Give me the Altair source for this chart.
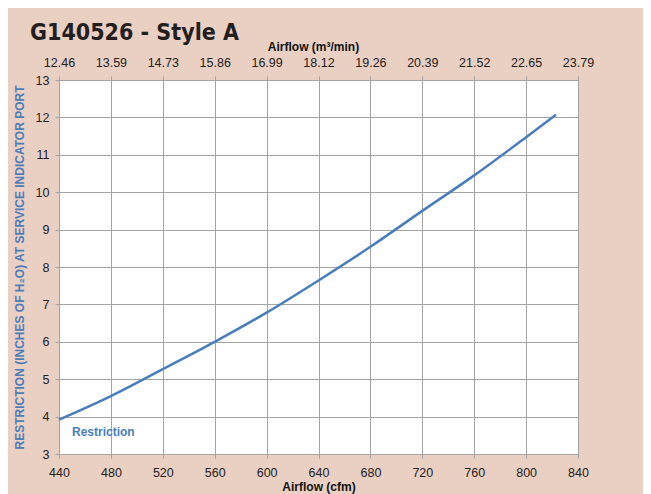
import json
import altair as alt
import pandas as pd

# ---- data ----
cfm = [440, 480, 520, 560, 600, 640, 680, 720, 760, 800, 823]
restriction = [3.92, 4.55, 5.27, 6.0, 6.78, 7.64, 8.54, 9.5, 10.45, 11.47, 12.07]
series_name = "Restriction"

cfm_ticks = [440, 480, 520, 560, 600, 640, 680, 720, 760, 800, 840]
m3_labels = ["12.46", "13.59", "14.73", "15.86", "16.99", "18.12",
             "19.26", "20.39", "21.52", "22.65", "23.79"]
y_ticks = [3, 4, 5, 6, 7, 8, 9, 10, 11, 12, 13]

title_text = "G140526 - Style A"
x_title = "Airflow (cfm)"
x2_title = "Airflow (m³/min)"
y_title = "RESTRICTION (INCHES OF H₂O) AT SERVICE INDICATOR PORT"

df = pd.DataFrame({"cfm": cfm, "restriction": restriction,
                   "series": [series_name] * len(cfm)})

BLUE = "#4a7ebb"
GRID = "#a3a3a3"
BG = "#eacfc3"
FONT = "Liberation Sans"

W, H = 519, 374

x_scale = alt.Scale(domain=[cfm_ticks[0], cfm_ticks[-1]], nice=False, zero=False)
y_scale = alt.Scale(domain=[y_ticks[0], y_ticks[-1]], nice=False, zero=False)

label_expr = f"{json.dumps(m3_labels)}[indexof({json.dumps(cfm_ticks)}, datum.value)]"

y_enc = alt.Y("restriction:Q", scale=y_scale,
              axis=alt.Axis(values=y_ticks, title=y_title, grid=True,
                            labelPadding=6, titleColor=BLUE,
                            titleX=-40, titleY=H / 2, titleAngle=-90,
                            titleAlign="center", titleBaseline="middle"))

line = alt.Chart(df).mark_line(strokeWidth=2.5, interpolate="monotone").encode(
    x=alt.X("cfm:Q", scale=x_scale,
            axis=alt.Axis(orient="bottom", values=cfm_ticks, title=x_title,
                          grid=True, labelPadding=8,
                          titleX=W / 2, titleY=36, titleAlign="center",
                          titleBaseline="alphabetic")),
    y=y_enc,
    color=alt.Color("series:N",
                    scale=alt.Scale(domain=[series_name], range=[BLUE]),
                    legend=alt.Legend(orient="none", legendX=1, legendY=346,
                                      title=None, symbolOpacity=0, symbolSize=1,
                                      labelOffset=0, padding=0,
                                      labelColor=BLUE, labelFontWeight="bold",
                                      labelFontSize=12, labelFont=FONT)),
)

top = alt.Chart(df).mark_line(opacity=0).encode(
    x=alt.X("cfm:Q", scale=x_scale,
            axis=alt.Axis(orient="top", values=cfm_ticks, labelExpr=label_expr,
                          title=x2_title, grid=False, labelPadding=7,
                          titleX=254, titleY=-30, titleAlign="center",
                          titleBaseline="alphabetic")),
    y=y_enc,
)

chart = (
    alt.layer(line, top)
    .resolve_axis(x="independent")
    .properties(
        width=W, height=H,
        autosize=alt.AutoSizeParams(type="none"),
        padding={"left": 51, "top": 72, "right": 65, "bottom": 40},
        background=BG,
        title=alt.TitleParams(title_text, anchor="start", frame="group",
                              dx=-29, dy=9,
                              font="Liberation Sans Narrow, DejaVu Sans Condensed, Liberation Sans",
                              fontSize=23, fontWeight="bold", color="#231f20"),
    )
    .configure_view(stroke=GRID, strokeWidth=1, fill="white")
    .configure_axis(
        domainColor=GRID, tickColor=GRID, gridColor=GRID, tickSize=4,
        labelFont=FONT, labelFontSize=12.5, labelColor="#222222",
        labelFlush=False, labelOverlap=False,
        titleFont=FONT, titleFontSize=12, titleFontWeight="bold",
        titleColor="#111111",
    )
)

chart.save("out.html", embed_options={"renderer": "svg", "actions": False})
